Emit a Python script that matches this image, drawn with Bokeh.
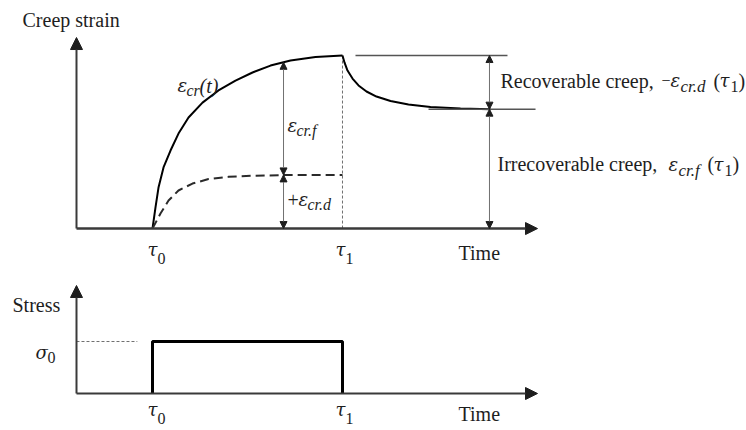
import numpy as np
from bokeh.plotting import figure
from bokeh.layouts import column
from bokeh.models import Range1d, Arrow, NormalHead
from bokeh.core.properties import value
from bokeh.embed import file_html
from bokeh.resources import INLINE

# ---- schematic data (time in arbitrary units, strain normalised to creep at tau1) ----
TAU0 = 1.0
TAU1 = 3.5
EPS_TOTAL = 1.0            # creep strain at tau1
EPS_D = 0.31               # delayed-elastic (recoverable) part
EPS_F = EPS_TOTAL - EPS_D  # flow (irrecoverable) part
SIGMA0 = 1.0

# total creep curve eps_cr(t) while loaded
creep_t = [1.0, 1.039, 1.079, 1.145, 1.237, 1.342, 1.474, 1.658, 1.868,
           2.092, 2.316, 2.553, 2.816, 3.145, 3.5]
creep_eps = [0.0, 0.121, 0.237, 0.353, 0.451, 0.549, 0.642, 0.728, 0.798,
             0.855, 0.902, 0.942, 0.971, 0.991, 1.0]

# delayed-elastic component (dashed)
delayed_t = [1.0, 1.105, 1.211, 1.342, 1.526, 1.737, 2.0, 2.316, 2.724, 3.5]
delayed_eps = [0.0, 0.087, 0.162, 0.220, 0.260, 0.286, 0.299, 0.305, 0.309, 0.31]

# recovery after unloading at tau1
recovery_t = [3.5, 3.526, 3.566, 3.632, 3.711, 3.816, 3.947, 4.132, 4.368,
              4.658, 5.053, 5.447]
recovery_eps = [1.0, 0.960, 0.913, 0.867, 0.827, 0.792, 0.763, 0.737, 0.717,
                0.702, 0.694, 0.69]

# stress history: constant sigma0 between tau0 and tau1
stress_t = [TAU0, TAU0, TAU1, TAU1]
stress_val = [0.0, SIGMA0, SIGMA0, 0.0]

# ---- drawing constants ----
SERIF = "Liberation Serif"
GREEK = "DejaVu Serif"
INK = "#1e1e1e"
AXIS = "#3a3a3a"
THIN = "#707070"
LIFT = -8             # baseline correction for all labels, px

X_RANGE = (-1.0, 8.816)
T_AXIS_END = 6.066
T_MID = 2.724         # dimension arrows under the curve
T_REC = 5.434         # dimension arrows on the right


def panel(height, y0, y1):
    p = figure(width=746, height=height, x_range=Range1d(*X_RANGE),
               y_range=Range1d(y0, y1), output_backend="svg",
               toolbar_location=None, x_axis_type=None, y_axis_type=None,
               min_border=0)
    p.grid.visible = False
    p.outline_line_color = None
    p.background_fill_color = "white"
    p.border_fill_color = "white"
    return p


def axis_arrow(p, x0, y0, x1, y1, width):
    p.add_layout(Arrow(start=None,
                       end=NormalHead(size=12, fill_color=INK, line_color=INK, line_width=1),
                       x_start=x0, y_start=y0, x_end=x1, y_end=y1,
                       line_width=width, line_color=AXIS))


def dim_arrow(p, x, y0, y1):
    head = dict(size=7, fill_color=INK, line_color=INK, line_width=1)
    p.add_layout(Arrow(start=NormalHead(**head), end=NormalHead(**head),
                       x_start=x, y_start=y0, x_end=x, y_end=y1,
                       line_width=1, line_color=THIN))


def put(p, x, y, pieces):
    # pieces: (text, dx px, dy px downwards, font size px, style)
    for txt, dx, dy, size, style in pieces:
        font = GREEK if txt in ("ε", "τ", "σ") else SERIF
        p.text(x=[x], y=[y], text=[txt], x_offset=dx, y_offset=dy + LIFT,
               text_font=value(font), text_font_size=f"{size}px",
               text_font_style=style, text_color=INK,
               text_baseline="alphabetic", text_align="left")


# ================= creep strain panel =================
top = panel(272, -0.254, 1.318)
Y_TIP = 1.104

axis_arrow(top, 0, 0, 0, Y_TIP, 2)
axis_arrow(top, 0, 0, T_AXIS_END, 0, 2.5)

# guide at tau1
top.line([TAU1, TAU1], [0, EPS_TOTAL], line_color=THIN, line_width=1, line_dash="3 2")

top.line(creep_t, creep_eps, line_color="black", line_width=2)
top.line(delayed_t, delayed_eps, line_color="#2a2a2a", line_width=2, line_dash="9 5")
top.line(recovery_t, recovery_eps, line_color="black", line_width=2)

# reference levels on the right
top.line([3.671, 5.671], [EPS_TOTAL, EPS_TOTAL], line_color="#555555", line_width=1.5)
top.line([4.632, 6.04], [EPS_F, EPS_F], line_color="#555555", line_width=1.5)

eps_at_mid = float(np.interp(T_MID, creep_t, creep_eps))
dim_arrow(top, T_MID, EPS_D, eps_at_mid)
dim_arrow(top, T_MID, 0, EPS_D)
dim_arrow(top, T_REC, EPS_F, EPS_TOTAL)
dim_arrow(top, T_REC, 0, EPS_F)

put(top, 0, Y_TIP, [("Creep strain", -54, -10, 20, "normal")])
put(top, TAU0, EPS_TOTAL, [("ε", 25, 38, 18, "italic"),
                           ("cr", 34, 43, 16, "italic"),
                           ("(t)", 47, 38, 20, "italic")])
put(top, T_MID, EPS_TOTAL, [("ε", 4, 78, 18, "italic"),
                            ("cr.f", 13, 83, 16, "italic")])
put(top, T_MID, 0, [("+", 4, -21, 20, "normal"),
                    ("ε", 15, -21, 18, "italic"),
                    ("cr.d", 24, -16, 16, "italic")])
put(top, T_REC, EPS_TOTAL, [("Recoverable creep,", 11, 33, 20, "normal"),
                            ("−", 172, 33, 16, "normal"),
                            ("ε", 181, 33, 18, "italic"),
                            ("cr.d", 191, 39, 17, "italic"),
                            ("(", 224, 33, 20, "normal"),
                            ("τ", 230, 33, 18, "italic"),
                            ("1", 241, 39, 16, "normal"),
                            (")", 249, 33, 20, "normal")])
put(top, T_REC, EPS_F, [("Irrecoverable creep,", 8, 63, 20, "normal"),
                        ("ε", 179, 63, 18, "italic"),
                        ("cr.f", 189, 69, 17, "italic"),
                        ("(", 218, 63, 20, "normal"),
                        ("τ", 224, 63, 18, "italic"),
                        ("1", 235, 69, 16, "normal"),
                        (")", 243, 63, 20, "normal")])
put(top, TAU0, 0, [("τ", -5, 29, 18, "italic"), ("0", 5, 38, 16, "normal")])
put(top, TAU1, 0, [("τ", -7, 29, 18, "italic"), ("1", 3, 38, 16, "normal")])
put(top, T_AXIS_END, 0, [("Time", -79, 32, 20, "normal")])

# ================= stress panel =================
bot = panel(158, -0.7115, 2.327)
Y_TIP_B = 2.077

axis_arrow(bot, 0, 0, 0, Y_TIP_B, 2)
axis_arrow(bot, 0, 0, T_AXIS_END, 0, 2)

bot.line([0, 0.8], [SIGMA0, SIGMA0], line_color=THIN, line_width=1, line_dash="3 2")
bot.line(stress_t, stress_val, line_color="black", line_width=3)

put(bot, 0, Y_TIP_B, [("Stress", -64, 28, 20, "normal")])
put(bot, 0, SIGMA0, [("σ", -41, 19, 18, "italic"), ("0", -29, 24, 16, "normal")])
put(bot, TAU0, 0, [("τ", -5, 24, 18, "italic"), ("0", 5, 33, 16, "normal")])
put(bot, TAU1, 0, [("τ", -7, 24, 18, "italic"), ("1", 3, 33, 16, "normal")])
put(bot, T_AXIS_END, 0, [("Time", -79, 28, 20, "normal")])

layout = column(top, bot, spacing=0)
open("out.html", "w").write(file_html(layout, INLINE))
